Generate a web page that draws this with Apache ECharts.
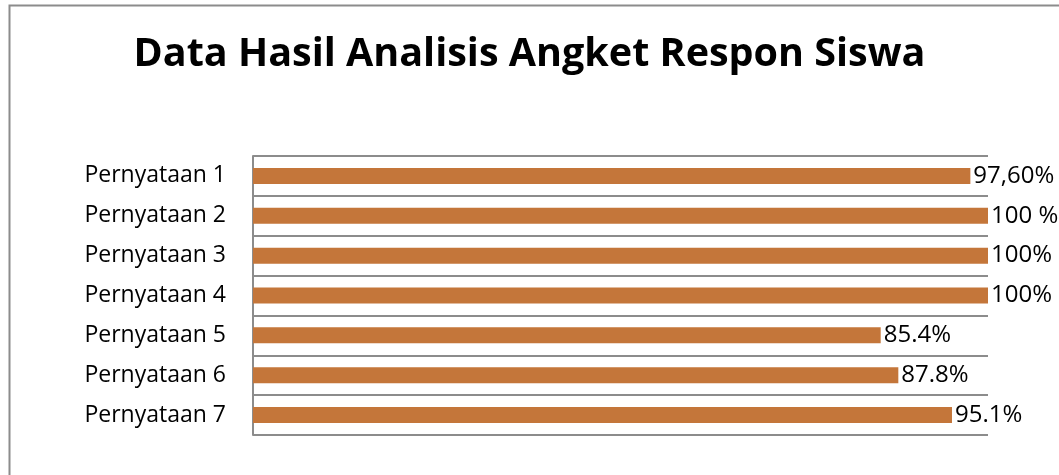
<!DOCTYPE html>
<html><head><meta charset="utf-8">
<script src="https://cdn.jsdelivr.net/npm/echarts@6/dist/echarts.min.js"></script>
<style>html,body{margin:0;padding:0;background:#fff}#c{width:1059px;height:475px}</style>
</head><body><div id="c"></div>
<script>
const title = 'Data Hasil Analisis Angket Respon Siswa';
const categories = ['Pernyataan 1','Pernyataan 2','Pernyataan 3','Pernyataan 4','Pernyataan 5','Pernyataan 6','Pernyataan 7'];
const values = [97.6, 100, 100, 100, 85.4, 87.8, 95.1];
const valueLabels = ['97,60%','100 %','100%','100%','85.4%','87.8%','95.1%'];

const chart = echarts.init(document.getElementById('c'));
chart.setOption({
  animation: false,
  title: {
    text: title, left: 'center', top: 30,
    textStyle: {fontFamily: 'Open Sans', fontWeight: 'bold', fontSize: 39.5, color: '#000'}
  },
  graphic: [{type: 'rect', shape: {x: 9.5, y: 5.5, width: 1200, height: 600},
    style: {fill: 'none', stroke: '#8c8c8c', lineWidth: 2}, silent: true, z: 100}],
  grid: {left: 253, right: 71, top: 156, bottom: 40},
  xAxis: {type: 'value', min: 0, max: 100, show: false, splitLine: {show: false}},
  yAxis: {
    type: 'category', data: categories, inverse: true,
    axisLine: {show: true, lineStyle: {color: '#8c8c8c', width: 2}},
    axisTick: {show: false},
    axisLabel: {margin: 27, fontFamily: 'Open Sans', fontSize: 23, color: '#000'},
    splitLine: {show: true, interval: 0, lineStyle: {color: '#8c8c8c', width: 2}}
  },
  series: [{
    type: 'bar', data: values, barWidth: 16,
    itemStyle: {color: '#C4763A'},
    label: {show: true, position: 'right', distance: 3, fontFamily: 'Open Sans', fontSize: 24, color: '#000',
      formatter: p => valueLabels[p.dataIndex]}
  }]
});
</script></body></html>
